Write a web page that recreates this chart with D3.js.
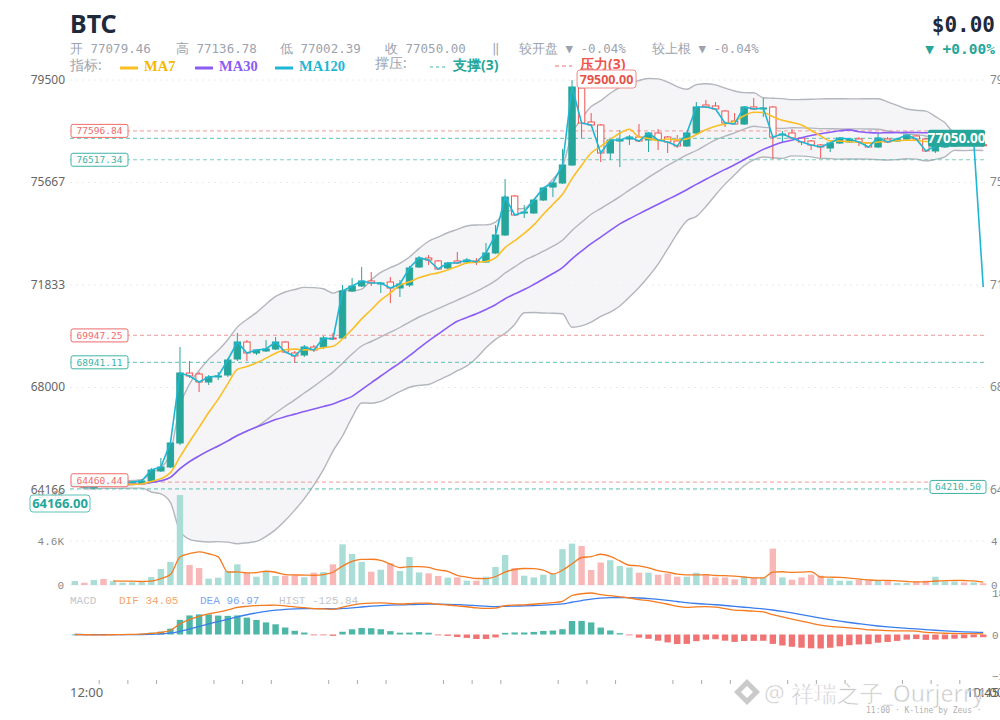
<!DOCTYPE html>
<html>
<head>
<meta charset="utf-8">
<script src="https://cdn.jsdelivr.net/npm/d3@7"></script>
<style>
  body { margin: 0; background: #fff; }
  svg { display: block; font-family: "Noto Sans", "DejaVu Sans", sans-serif; }
</style>
</head>
<body>
<svg id="chart" width="1000" height="720"></svg>
<script>
// ---------- data ----------
var opens = [64316, 64390, 64260, 64390, 64353, 64428, 64428, 64428, 64503, 64877,
  65026, 65924, 68542, 68504, 68205, 68392, 68467, 69065, 69701, 69290,
  69365, 69439, 69701, 69290, 69215, 69514, 69514, 69851, 69851, 71609,
  71796, 71983, 71870, 71945, 71721, 71833, 72506, 72843, 72731, 72469,
  72731, 72693, 72731, 72693, 73030, 73703, 75162, 74526, 74526, 75012,
  75498, 75648, 76321, 79201, 77929, 77817, 76770, 77219, 77293, 77368,
  77256, 77518, 77368, 77219, 77032, 77518, 78565, 78528, 78341, 77967,
  77854, 78490, 78415, 78490, 77443, 77518, 77331, 77219, 77069, 76957,
  77144, 77181, 77293, 77144, 76994, 77293, 77219, 77293, 77406, 77293,
  76845, 76994, 77032, 77106, 77069, 77079.46];
var highs = [64428, 64428, 64316, 64428, 64465, 64503, 64503, 64577, 64989, 65363,
  65999, 69514, 68991, 68579, 68467, 68579, 69103, 70038, 69776, 69365,
  69776, 69888, 69739, 69365, 69589, 69589, 69926, 70038, 71833, 72095,
  72506, 72319, 71945, 72132, 72020, 72544, 72918, 72955, 72768, 72693,
  73067, 72843, 72843, 73404, 74077, 75797, 75199, 74825, 75049, 75498,
  75685, 76919, 79500, 79276, 78266, 77854, 77293, 77630, 77443, 77854,
  77555, 77667, 77406, 77443, 77555, 78677, 78752, 78677, 78378, 78266,
  78528, 78827, 78827, 78528, 77593, 77667, 77368, 77256, 77106, 77144,
  77368, 77331, 77368, 77181, 77518, 77368, 77293, 77480, 77443, 77331,
  77069, 77106, 77144, 77144, 77293, 77136.78];
var lows = [64278, 64241, 64203, 64278, 64316, 64390, 64390, 64390, 64465, 64839,
  64989, 65849, 68355, 67831, 68093, 68280, 68392, 68991, 68991, 69215,
  69327, 69402, 69290, 68916, 69140, 69327, 69439, 69776, 69813, 71571,
  71758, 71796, 71534, 71160, 71384, 71758, 72469, 72581, 72394, 72431,
  72618, 72656, 72581, 72656, 72992, 73666, 74414, 74339, 74488, 74975,
  75124, 75610, 76284, 77331, 77780, 76433, 76508, 76246, 77069, 77181,
  76807, 76882, 76770, 76957, 76994, 77480, 78453, 78378, 77742, 77929,
  77817, 78378, 78116, 76545, 77181, 77293, 77069, 76882, 76583, 76807,
  77106, 77144, 77032, 76957, 76957, 77144, 77181, 77256, 77256, 76807,
  76770, 76957, 76994, 77032, 77032, 77002.39];
var closes = [64390, 64278, 64278, 64353, 64428, 64447, 64465, 64503, 64914, 65026,
  65924, 68542, 68430, 68205, 68392, 68430, 69028, 69701, 69290, 69402,
  69439, 69701, 69327, 69178, 69514, 69402, 69851, 69813, 71609, 71796,
  71983, 71908, 71908, 71721, 71870, 72469, 72843, 72768, 72431, 72656,
  72656, 72768, 72693, 73030, 73703, 75124, 74451, 74563, 75012, 75461,
  75648, 76321, 79238, 77892, 77817, 76770, 77256, 77256, 77368, 77219,
  77518, 77256, 77181, 77032, 77518, 78490, 78490, 78415, 77892, 77854,
  78490, 78415, 78453, 77368, 77480, 77331, 77181, 77069, 76994, 77144,
  77331, 77293, 77181, 76994, 77331, 77181, 77293, 77443, 77293, 76845,
  77032, 77032, 77106, 77069, 77256, 77050];
var volumes = [418, 240, 523, 627, 387, 240, 282, 282, 836, 1672,
  2404, 9405, 2090, 1777, 658, 763, 1463, 2163, 1254, 867,
  1432, 941, 972, 1045, 805, 1285, 1359, 2163, 4253, 3240,
  2404, 1390, 1599, 2268, 1463, 2926, 1317, 1212, 941, 763,
  794, 449, 449, 867, 1881, 3135, 1777, 972, 794, 1076,
  1150, 3741, 4326, 4076, 1568, 2351, 2592, 1986, 1829, 1285,
  1285, 1076, 1212, 867, 867, 1285, 1150, 794, 794, 585,
  867, 732, 732, 3804, 794, 554, 794, 1076, 972, 690,
  449, 449, 523, 523, 449, 449, 209, 209, 345, 449,
  867, 376, 376, 272, 272, 178];

var priceTicks = [79500, 75667, 71833, 68000, 64166];
var priceTickLabels = ["79500", "75667", "71833", "68000", "64166"];
var volTicks = [4600, 0];
var volTickLabels = ["4.6K", "0"];
var supportLevels = [76517.34, 68941.11, 64210.50];
var resistLevels = [77596.84, 69947.25, 64460.44];
var markLine = 77318;       // teal dashed line carrying the last-price tag
var ma120Last = 71758;      // last point of the cyan line
var xTickIdx = [2, 5, 8, 14, 17, 20, 26, 29, 32, 38, 41, 44, 50, 53, 56, 62, 65, 68, 74, 77, 80, 86, 89, 92];

// ---------- colours ----------
var UP = "#26a69a", DOWN = "#ef5350";
var C_MA7 = "#fbbf24", C_MA30 = "#8b5cf6", C_MA120 = "#1fb6d3";

// ---------- indicator helpers ----------
function sma(arr, n) {
  return arr.map(function(d, i) {
    return d3.mean(arr.slice(Math.max(0, i - n + 1), i + 1));
  });
}
function ema(arr, n) {
  var a = 2 / (n + 1), out = [];
  arr.forEach(function(d, i) { out.push(i === 0 ? d : a * d + (1 - a) * out[i - 1]); });
  return out;
}
var ma7 = sma(closes, 7);
var ma30 = sma(closes, 30);
var mid = sma(closes, 20);
var bandUp = [], bandLo = [];
closes.forEach(function(d, i) {
  var s = closes.slice(Math.max(0, i - 19), i + 1);
  var m = mid[i];
  var sd = Math.sqrt(d3.mean(s, function(v) { return (v - m) * (v - m); }));
  bandUp.push(m + 2 * sd);
  bandLo.push(m - 2 * sd);
});
var volMa = sma(volumes, 5);
var e12 = ema(closes, 12), e26 = ema(closes, 26);
var dif = e12.map(function(d, i) { return d - e26[i]; });
var dea = ema(dif, 9);
var hist = dif.map(function(d, i) { return 2 * (d - dea[i]); });
var cyan = closes.slice(0, closes.length - 1).concat([ma120Last]);

// ---------- scales ----------
var n = closes.length;
var x = d3.scaleLinear().domain([-0.5, n - 0.5]).range([70, 988]);
var y = d3.scaleLinear().domain([64166, 79500]).range([490, 80]);
var yv = d3.scaleLinear().domain([0, 4600]).range([585, 541]);
var M = d3.max(dif.concat(dea), function(d) { return Math.abs(d); });
var ym = d3.scaleLinear().domain([-M, M]).range([676, 593]);
var bw = 6.4;

var svg = d3.select("#chart");

// ---------- header ----------
svg.append("text").attr("x", 70).attr("y", 33).style("font-size", "25px").style("font-weight", "bold")
   .style("fill", "#1e293b").text("BTC");
svg.append("text").attr("x", 995).attr("y", 32).attr("text-anchor", "end")
   .style("font-family", "'DejaVu Sans Mono', monospace").style("font-size", "21px").style("font-weight", "bold")
   .style("fill", "#1e293b").text("$0.00");
svg.append("text").attr("x", 995).attr("y", 54).attr("text-anchor", "end")
   .style("font-family", "'DejaVu Sans Mono', monospace").style("font-size", "14.5px").style("font-weight", "bold")
   .style("fill", UP).text("▼ +0.00%");

var info = [
  [70, "开 77079.46"], [176, "高 77136.78"], [280, "低 77002.39"], [385, "收 77050.00"],
  [492, "‖"], [519, "较开盘 ▼ -0.04%"], [652, "较上根 ▼ -0.04%"]
];
svg.append("g").selectAll("text").data(info).enter().append("text")
   .attr("x", function(d) { return d[0]; }).attr("y", 53)
   .style("font-family", "'DejaVu Sans Mono', monospace").style("font-size", "12.5px")
   .style("fill", "#9ca3af").text(function(d) { return d[1]; });

// legend row
svg.append("text").attr("x", 70).attr("y", 70).style("font-size", "13.5px").style("fill", "#9ca3af").text("指标:");
var maLegend = [[120, C_MA7, "MA7", "#f5b800"], [195, C_MA30, "MA30", C_MA30], [275, C_MA120, "MA120", C_MA120]];
maLegend.forEach(function(d) {
  svg.append("rect").attr("x", d[0]).attr("y", 66.5).attr("width", 18).attr("height", 3).attr("fill", d[1]);
  svg.append("text").attr("x", d[0] + 24).attr("y", 71)
     .style("font-family", "'Liberation Serif', serif").style("font-weight", "bold").style("font-size", "14.5px")
     .style("fill", d[3]).text(d[2]);
});
svg.append("text").attr("x", 375).attr("y", 68).style("font-size", "13.5px").style("fill", "#9ca3af").text("撑压:");
svg.append("line").attr("x1", 430).attr("x2", 446).attr("y1", 67).attr("y2", 67)
   .attr("stroke", "#7fd1c7").attr("stroke-width", 1.3).attr("stroke-dasharray", "3,3");
svg.append("text").attr("x", 453).attr("y", 70).style("font-size", "14px").style("font-weight", "bold")
   .style("fill", UP).text("支撑(3)");
svg.append("line").attr("x1", 555).attr("x2", 572).attr("y1", 66).attr("y2", 66)
   .attr("stroke", "#f4a0a0").attr("stroke-width", 1.3).attr("stroke-dasharray", "4,3");
svg.append("text").attr("x", 580).attr("y", 69).style("font-size", "14px").style("font-weight", "bold")
   .style("fill", DOWN).text("压力(3)");

// ---------- grid + price axis ----------
var grid = svg.append("g");
grid.selectAll("line").data(priceTicks).enter().append("line")
    .attr("x1", 70).attr("x2", 986).attr("y1", function(d) { return y(d); }).attr("y2", function(d) { return y(d); })
    .attr("stroke", "#e8eaee").attr("stroke-dasharray", "2,4");
grid.append("line").attr("x1", 70).attr("x2", 986).attr("y1", yv(4600)).attr("y2", yv(4600))
    .attr("stroke", "#e8eaee").attr("stroke-dasharray", "2,4");
grid.append("line").attr("x1", 70).attr("x2", 986).attr("y1", yv(0)).attr("y2", yv(0))
    .attr("stroke", "#eef0f3");

svg.append("g").selectAll("text").data(priceTicks).enter().append("text")
   .attr("x", 65).attr("y", function(d) { return y(d) + 4; }).attr("text-anchor", "end")
   .style("font-size", "12px").style("fill", "#666")
   .text(function(d, i) { return priceTickLabels[i]; });
svg.append("g").selectAll("text").data(priceTicks).enter().append("text")
   .attr("x", 990).attr("y", function(d) { return y(d) + 4; })
   .style("font-size", "12px").style("fill", "#888")
   .text(function(d, i) { return priceTickLabels[i]; });

// volume axis labels
svg.append("text").attr("x", 64).attr("y", 498).attr("text-anchor", "end")
   .style("font-family", "'Liberation Mono', monospace").style("font-size", "11px").style("fill", "#999")
   .text(d3.format(".1f")(d3.max(volumes) / 1000) + "K");
svg.append("g").selectAll("text").data(volTicks).enter().append("text")
   .attr("x", 64).attr("y", function(d) { return yv(d) + 4; }).attr("text-anchor", "end")
   .style("font-family", "'Liberation Mono', monospace").style("font-size", "11px").style("fill", "#888")
   .text(function(d, i) { return volTickLabels[i]; });
svg.append("g").selectAll("text").data(volTicks).enter().append("text")
   .attr("x", 991).attr("y", function(d) { return yv(d) + 4; })
   .style("font-family", "'Liberation Mono', monospace").style("font-size", "11px").style("fill", "#888")
   .text(function(d, i) { return volTickLabels[i]; });

// ---------- bollinger band ----------
var band = d3.area().x(function(d, i) { return x(i); })
  .y0(function(d, i) { return y(bandLo[i]); }).y1(function(d, i) { return y(bandUp[i]); })
  .curve(d3.curveMonotoneX);
svg.append("path").datum(closes).attr("d", band).attr("fill", "#f1f2f5").attr("fill-opacity", 0.75);
[bandUp, mid, bandLo].forEach(function(arr) {
  svg.append("path").datum(arr)
     .attr("d", d3.line().x(function(d, i) { return x(i); }).y(function(d) { return y(d); }).curve(d3.curveMonotoneX))
     .attr("fill", "none").attr("stroke", "#b3b6bd").attr("stroke-width", 1.4);
});

// ---------- support / resistance lines ----------
function levelLine(v, color) {
  svg.append("line").attr("x1", 70).attr("x2", 986).attr("y1", y(v)).attr("y2", y(v))
     .attr("stroke", color).attr("stroke-width", 1.2).attr("stroke-dasharray", "4,3").attr("opacity", 0.8);
}
resistLevels.forEach(function(v) { levelLine(v, "#f29a9a"); });
supportLevels.forEach(function(v) { levelLine(v, "#5cc2b5"); });
levelLine(markLine, "#5cc2b5");

// ---------- candles ----------
var candles = svg.append("g").selectAll("g").data(closes).enter().append("g");
candles.append("line")
  .attr("x1", function(d, i) { return x(i); }).attr("x2", function(d, i) { return x(i); })
  .attr("y1", function(d, i) { return y(highs[i]); }).attr("y2", function(d, i) { return y(lows[i]); })
  .attr("stroke", function(d, i) { return d >= opens[i] ? UP : DOWN; }).attr("stroke-width", 1);
candles.append("rect")
  .attr("x", function(d, i) { return x(i) - bw / 2; })
  .attr("y", function(d, i) { return y(Math.max(d, opens[i])); })
  .attr("width", bw)
  .attr("height", function(d, i) { return Math.max(1, Math.abs(y(d) - y(opens[i]))); })
  .attr("fill", function(d, i) { return d >= opens[i] ? UP : "#fff"; })
  .attr("stroke", function(d, i) { return d >= opens[i] ? UP : DOWN; }).attr("stroke-width", 1);

// ---------- moving averages ----------
var priceLine = d3.line().x(function(d, i) { return x(i); }).y(function(d) { return y(d); });
svg.append("path").datum(ma30).attr("d", priceLine.curve(d3.curveMonotoneX))
   .attr("fill", "none").attr("stroke", C_MA30).attr("stroke-width", 1.6);
svg.append("path").datum(ma7).attr("d", priceLine.curve(d3.curveMonotoneX))
   .attr("fill", "none").attr("stroke", C_MA7).attr("stroke-width", 1.6);
svg.append("path").datum(cyan).attr("d", priceLine.curve(d3.curveLinear))
   .attr("fill", "none").attr("stroke", C_MA120).attr("stroke-width", 1.6);

// ---------- level tags ----------
function tag(xl, v, w, color, txt) {
  var g = svg.append("g");
  g.append("rect").attr("x", xl).attr("y", y(v) - 6.5).attr("width", w).attr("height", 13).attr("rx", 2)
   .attr("fill", "#fff").attr("fill-opacity", 0.9).attr("stroke", color).attr("stroke-width", 1);
  g.append("text").attr("x", xl + w / 2).attr("y", y(v) + 3.5).attr("text-anchor", "middle")
   .style("font-family", "'DejaVu Sans Mono', monospace").style("font-size", "9.5px").style("fill", color).text(txt);
}
tag(71, resistLevels[0], 57, "#ef6b6b", "77596.84");
tag(71, supportLevels[0], 57, "#3fb3a5", "76517.34");
tag(71, resistLevels[1], 57, "#ef6b6b", "69947.25");
tag(71, supportLevels[1], 57, "#3fb3a5", "68941.11");
tag(71, resistLevels[2] + 70, 57, "#ef6b6b", "64460.44");
tag(930, supportLevels[2] + 70, 56, "#3fb3a5", "64210.50");

// high tag
var hi = d3.max(highs), hiIdx = highs.indexOf(hi);
svg.append("rect").attr("x", x(hiIdx) + 5).attr("y", y(hi) - 10).attr("width", 59).attr("height", 18).attr("rx", 3)
   .attr("fill", "#fff").attr("stroke", "#f08a8a");
svg.append("text").attr("x", x(hiIdx) + 34.5).attr("y", y(hi) + 4).attr("text-anchor", "middle")
   .style("font-size", "12.5px").style("font-weight", "bold").style("fill", "#e5534b").text("79500.00");

// low tag
svg.append("rect").attr("x", 30).attr("y", 495).attr("width", 60).attr("height", 17).attr("rx", 3)
   .attr("fill", "#fff").attr("fill-opacity", 0.75).attr("stroke", "#5cc2b5");
svg.append("text").attr("x", 60).attr("y", 508).attr("text-anchor", "middle")
   .style("font-size", "13px").style("font-weight", "bold").style("fill", UP).text("64166.00");

// last price tag
svg.append("rect").attr("x", 928).attr("y", y(markLine) - 8.5).attr("width", 57).attr("height", 17).attr("rx", 2)
   .attr("fill", UP);
svg.append("text").attr("x", 956.5).attr("y", y(markLine) + 5).attr("text-anchor", "middle")
   .style("font-size", "13.5px").style("font-weight", "bold").style("fill", "#fff").text("77050.00");

// ---------- volume ----------
svg.append("g").selectAll("rect").data(volumes).enter().append("rect")
   .attr("x", function(d, i) { return x(i) - bw / 2; }).attr("y", function(d) { return yv(d); })
   .attr("width", bw).attr("height", function(d) { return yv(0) - yv(d); })
   .attr("fill", function(d, i) { return closes[i] >= opens[i] ? "#a9ddd6" : "#f8b8b7"; });
svg.append("path").datum(volMa.slice(4))
   .attr("d", d3.line().x(function(d, i) { return x(i + 4); }).y(function(d) { return yv(d); }).curve(d3.curveMonotoneX))
   .attr("fill", "none").attr("stroke", "#f47b20").attr("stroke-width", 1.3);

// ---------- MACD ----------
var macdInfo = [[70, "MACD", "#c3c6cc"], [119, "DIF 34.05", "#f6a66b"], [200, "DEA 96.97", "#7ea6f2"], [279, "HIST -125.84", "#c3c6cc"]];
svg.append("g").selectAll("text").data(macdInfo).enter().append("text")
   .attr("x", function(d) { return d[0]; }).attr("y", 604)
   .style("font-family", "'Liberation Mono', monospace").style("font-size", "11px")
   .style("fill", function(d) { return d[2]; }).text(function(d) { return d[1]; });
svg.append("g").selectAll("rect").data(hist).enter().append("rect")
   .attr("x", function(d, i) { return x(i) - bw / 2; })
   .attr("y", function(d) { return Math.min(ym(d), ym(0)); })
   .attr("width", bw).attr("height", function(d) { return Math.max(0.8, Math.abs(ym(d) - ym(0))); })
   .attr("fill", function(d) { return d >= 0 ? "#4db6a6" : "#f07474"; });
var macdLine = d3.line().x(function(d, i) { return x(i); }).y(function(d) { return ym(d); }).curve(d3.curveMonotoneX);
svg.append("path").datum(dea).attr("d", macdLine).attr("fill", "none").attr("stroke", "#3b7ded").attr("stroke-width", 1.3);
svg.append("path").datum(dif).attr("d", macdLine).attr("fill", "none").attr("stroke", "#f47b20").attr("stroke-width", 1.3);
svg.append("g").selectAll("text").data([M, 0, -M]).enter().append("text")
   .attr("x", 992).attr("y", function(d) { return ym(d) + 4; })
   .style("font-family", "'Liberation Mono', monospace").style("font-size", "11px").style("fill", "#888")
   .text(function(d) { return d3.format(".0f")(d); });

// ---------- time axis ----------
var xAxis = svg.append("g").attr("transform", "translate(0,680)")
   .call(d3.axisBottom(x).tickValues(xTickIdx.map(function(k) { return k + 0.5; })).tickSize(4).tickFormat(""));
xAxis.select(".domain").remove();
xAxis.selectAll("line").attr("stroke", "#aaa");
svg.append("text").attr("x", 70).attr("y", 697).style("font-size", "13px").style("fill", "#666").text("12:00");
svg.append("text").attr("x", 966).attr("y", 697).style("font-size", "13px").style("fill", "#666").text("10:45");
svg.append("text").attr("x", 971).attr("y", 697).style("font-size", "13px").style("fill", "#666").text("11:00");

// ---------- watermark ----------
var wm = svg.append("g").attr("opacity", 0.7);
wm.append("path").attr("d", "M747,679 L760,692 L747,705 L734,692 Z M747,686 L753,692 L747,698 L741,692 Z")
  .attr("fill", "#b5b5b5").attr("fill-rule", "evenodd");
wm.append("text").attr("x", 764).attr("y", 702).style("font-size", "23px").style("fill", "#b0b0b0")
  .style("stroke", "#fff").style("stroke-width", 0.6).text("@ 祥瑞之子_Ourjerry");
svg.append("text").attr("x", 866).attr("y", 713)
   .style("font-family", "'DejaVu Sans Mono', monospace").style("font-size", "8px").style("fill", "#b0b0b0")
   .text("11:00 · K-line by Zeus ·");
</script>
</body>
</html>
